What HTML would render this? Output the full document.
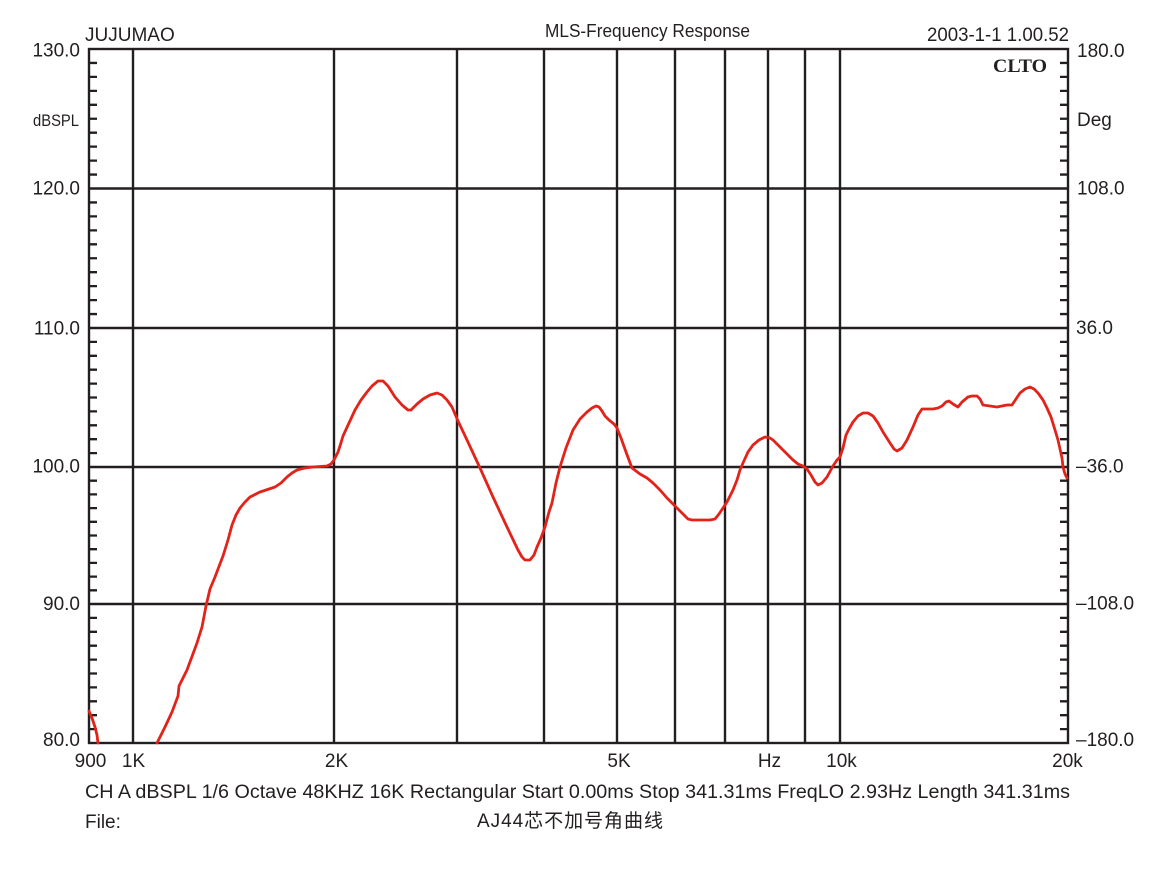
<!DOCTYPE html>
<html>
<head>
<meta charset="utf-8">
<style>
html,body{margin:0;padding:0;background:#fff;}
svg{display:block;}
text{font-family:"Liberation Sans","Noto Sans CJK SC",sans-serif;fill:#231f20;}
</style>
</head>
<body>
<svg width="1169" height="870" viewBox="0 0 1169 870" xmlns="http://www.w3.org/2000/svg">
<rect x="0" y="0" width="1169" height="870" fill="#fff"/>

<!-- grid -->
<g stroke="#231f20" stroke-width="2.4" fill="none">
  <path d="M133 49V743 M334 49V743 M457 49V743 M544 49V743 M617 49V743 M675 49V743 M725 49V743 M768 49V743 M805 49V743 M840 49V743"/>
  <path d="M89 188.5H1068 M89 328H1068 M89 467H1068 M89 604H1068"/>
  <rect x="89" y="49" width="979" height="694"/>
</g>

<!-- ticks -->
<g stroke="#231f20" stroke-width="2.3" fill="none">
<path d="M89 62.95h8M89 76.9h8M89 90.85h8M89 104.8h8M89 118.75h8M89 132.7h8M89 146.65h8M89 160.6h8M89 174.55h8
M89 202.45h8M89 216.4h8M89 230.35h8M89 244.3h8M89 258.25h8M89 272.2h8M89 286.15h8M89 300.1h8M89 314.05h8
M89 341.9h8M89 355.8h8M89 369.7h8M89 383.6h8M89 397.5h8M89 411.4h8M89 425.3h8M89 439.2h8M89 453.1h8
M89 480.7h8M89 494.4h8M89 508.1h8M89 521.8h8M89 535.5h8M89 549.2h8M89 562.9h8M89 576.6h8M89 590.3h8
M89 617.9h8M89 631.8h8M89 645.7h8M89 659.6h8M89 673.5h8M89 687.4h8M89 701.3h8M89 715.2h8M89 729.1h8"/>
<path d="M1068 62.95h-8M1068 76.9h-8M1068 90.85h-8M1068 104.8h-8M1068 118.75h-8M1068 132.7h-8M1068 146.65h-8M1068 160.6h-8M1068 174.55h-8
M1068 202.45h-8M1068 216.4h-8M1068 230.35h-8M1068 244.3h-8M1068 258.25h-8M1068 272.2h-8M1068 286.15h-8M1068 300.1h-8M1068 314.05h-8
M1068 341.9h-8M1068 355.8h-8M1068 369.7h-8M1068 383.6h-8M1068 397.5h-8M1068 411.4h-8M1068 425.3h-8M1068 439.2h-8M1068 453.1h-8
M1068 480.7h-8M1068 494.4h-8M1068 508.1h-8M1068 521.8h-8M1068 535.5h-8M1068 549.2h-8M1068 562.9h-8M1068 576.6h-8M1068 590.3h-8
M1068 617.9h-8M1068 631.8h-8M1068 645.7h-8M1068 659.6h-8M1068 673.5h-8M1068 687.4h-8M1068 701.3h-8M1068 715.2h-8M1068 729.1h-8"/>
</g>

<!-- curve -->
<g fill="none" stroke="#e2231a" stroke-width="2.8" stroke-linejoin="round" stroke-linecap="round">
<polyline points="89,711 92,718 95,727 97,735 98,743"/>
<polyline points="157,743 165,727 172,712 178,696 179,686 187,670 197,643 202,627 206,606 210,589 215,577 223,556 228,540 232,525 236,515 240,508 245,502 250,497 260,492 275,487 281,483 287,477 292,473 297,470 305,468 313,467 327,466 331,464 334,460 338,452 340,446 343,436 349,423 355,410 361,400 367,392 372,386 378,381 383,381 388,386 395,397 402,405 408,410 411,410 417,404 423,399 430,395 437,393 442,395 447,400 452,407 458,421 467,440 480,468 493,497 507,527 518,550 522,557 525,560 530,560 534,555 537,547 541,538 545,527 549,512 552,503 556,483 560,467 566,448 573,430 580,419 587,412 592,408 596,406 599,407 602,411 605,416 609,420 614,424 617,428 621,438 626,452 632,468 636,471 640,474 647,478 653,483 660,490 667,498 677,508 684,515 688,519 692,520 710,520 715,519 719,514 723,508 727,502 733,490 737,480 740,470 743,463 748,452 753,445 759,440 765,437 770,438 773,440 778,445 782,449 788,455 793,460 798,464 803,466 807,469 811,475 815,482 818,485 822,483 827,477 833,466 837,460 840,457 843,448 846,435 849,429 853,422 858,416 863,413 868,413 873,416 878,423 883,432 890,443 894,449 897,451 902,448 907,440 913,427 918,415 922,409 928,409 933,409 938,408 942,406 946,402 949,401 953,404 958,407 962,402 968,397 972,396 977,396 980,399 983,405 990,406 997,407 1002,406 1007,405 1012,405 1016,399 1020,393 1025,389 1030,387 1034,389 1038,393 1043,400 1047,408 1051,417 1055,430 1058,440 1060,449 1062,458 1063,467 1065,474 1067,478"/>
</g>

<!-- header texts -->
<text x="85" y="41" font-size="19">JUJUMAO</text>
<text x="545" y="37" font-size="18" textLength="205" lengthAdjust="spacingAndGlyphs">MLS-Frequency Response</text>
<text x="927" y="41" font-size="19" textLength="142" lengthAdjust="spacingAndGlyphs">2003-1-1 1.00.52</text>
<text x="993" y="72" font-size="19" font-weight="bold" style="font-family:'Liberation Serif',serif" textLength="54" lengthAdjust="spacingAndGlyphs">CLTO</text>

<!-- left axis labels -->
<g font-size="19" text-anchor="end">
<text x="80" y="56.5">130.0</text>
<text x="80" y="194.5">120.0</text>
<text x="80" y="334.3">110.0</text>
<text x="80" y="472.7">100.0</text>
<text x="80" y="610">90.0</text>
<text x="80" y="746">80.0</text>
</g>
<text x="33" y="126" font-size="17" textLength="46" lengthAdjust="spacingAndGlyphs">dBSPL</text>

<!-- right axis labels -->
<g font-size="19">
<text x="1077" y="57">180.0</text>
<text x="1077" y="126">Deg</text>
<text x="1077" y="194.5">108.0</text>
<text x="1076" y="334">36.0</text>
<text x="1076" y="472.7">–36.0</text>
<text x="1076" y="609.5">–108.0</text>
<text x="1076" y="746">–180.0</text>
</g>

<!-- x axis labels -->
<g font-size="19" text-anchor="middle">
<text x="90.5" y="767">900</text>
<text x="133.5" y="767">1K</text>
<text x="336.5" y="767">2K</text>
<text x="619" y="767">5K</text>
<text x="769.5" y="767">Hz</text>
<text x="841.5" y="767">10k</text>
<text x="1067.5" y="767">20k</text>
</g>

<!-- footer -->
<text x="85" y="798" font-size="19" textLength="985" lengthAdjust="spacingAndGlyphs">CH A dBSPL 1/6 Octave 48KHZ 16K Rectangular Start 0.00ms Stop 341.31ms FreqLO 2.93Hz Length 341.31ms</text>
<text x="85" y="828" font-size="19">File:</text>
<text x="477" y="827" font-size="19" textLength="186" lengthAdjust="spacing">AJ44芯不加号角曲线</text>
</svg>
</body>
</html>
